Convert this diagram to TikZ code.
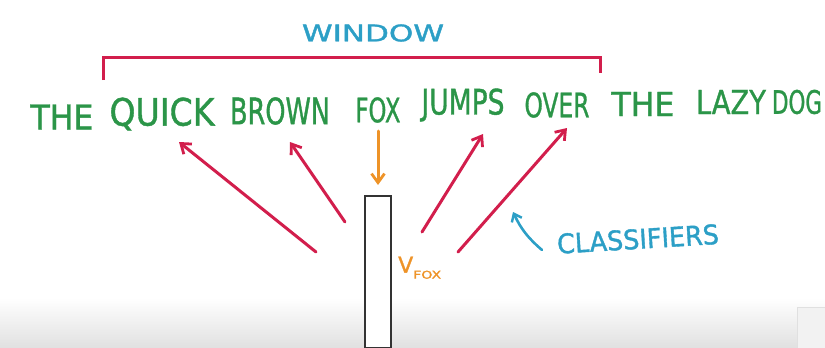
\documentclass[tikz,border=0pt]{standalone}
\usepackage{fontspec}
\setmainfont{DejaVu Sans}
\newfontfamily\greenpen{DejaVu Sans}[FakeBold=1.2]
\newfontfamily\bluepen{DejaVu Sans}[FakeBold=1.4]
\usepackage{graphicx}
\usetikzlibrary{arrows.meta}

\definecolor{wordgreen}{HTML}{2B9548}
\definecolor{penred}{HTML}{D21E4C}
\definecolor{penblue}{HTML}{2C9FC6}
\definecolor{penorange}{HTML}{EE9328}
\definecolor{boxgray}{HTML}{333333}

% a word squeezed into a box of given width and height (in px-sized pt)
\newcommand\fitword[3]{\resizebox{#1pt}{#2pt}{#3}}

\tikzset{
  word/.style={text=wordgreen, inner sep=0pt, font=\greenpen},
  bluetext/.style={text=penblue, inner sep=0pt, font=\bluepen},
  classline/.style={draw=penred, line width=3pt, line cap=round,
    -{Straight Barb[length=9pt,width=13pt,line width=2.8pt]}},
  inputline/.style={draw=penorange, line width=3pt, line cap=round,
    -{Straight Barb[length=9pt,width=13pt,line width=2.8pt]}},
  noteline/.style={draw=penblue, line width=2.6pt, line cap=round,
    -{Straight Barb[length=7pt,width=11pt,line width=2.4pt]}},
  bracket/.style={draw=penred, line width=3pt},
  vecbox/.style={draw=boxgray, line width=2.4pt, fill=white, inner sep=0pt,
    minimum width=26pt, minimum height=152pt},
}

\begin{document}
\begin{tikzpicture}[x=1pt, y=-1pt]
  \useasboundingbox (0,0) rectangle (825,348);
  % soft grey fade along the bottom edge
  \shade[top color=white, bottom color=black!12] (0,298) rectangle (825,348);
  \fill[black!5] (797,307) rectangle (825,348);
  \draw[black!12, line width=0.8pt] (797,348) -- (797,307) -- (825,307);

  % window label and bracket
  \node[bluetext] (window) at (373,33) {\fitword{142}{17}{WINDOW}};
  \coordinate (bl) at (103,80);
  \coordinate (br) at (600,73);
  \draw[bracket] (bl) -- (103,57) -- (600,57) -- (br);

  % the sentence
  \node[word] (w1) at (62,117)  {\fitword{63}{25}{THE}};
  \node[word] (w2) at (162,114) {\fitword{105}{28}{QUICK}};
  \node[word] (w3) at (280,111) {\fitword{100}{27}{BROWN}};
  \node[word] (w4) at (378,110) {\fitword{45}{25}{FOX}};
  \node[word] (w5) at (463,105) {\fitword{83}{26}{JUMPS}};
  \node[word] (w6) at (557,105) {\fitword{65}{25}{OVER}};
  \node[word] (w7) at (643,104) {\fitword{63}{24}{THE}};
  \node[word] (w8) at (731,102) {\fitword{70}{24}{LAZY}};
  \node[word] (w9) at (797,102) {\fitword{50}{24}{DOG}};

  % word vector of the centre word
  \node[vecbox, anchor=north] (vec) at (378,195) {};
  \node[text=penorange, inner sep=0pt, anchor=south west, font=\bluepen] (vlabel) at (398,279)
    {\fitword{15}{16}{V}\raisebox{-6pt}{\fitword{28}{8}{FOX}}};

  % input arrow into the vector
  \coordinate (inTop) at (378,131);
  \coordinate (inTip) at (378,185);
  \draw[inputline] (inTop) -- (inTip);

  % classifier arrows toward the context words
  \coordinate (c1s) at (316,252);  \coordinate (c1t) at (179,142);
  \coordinate (c2s) at (345,222);  \coordinate (c2t) at (290,142);
  \coordinate (c3s) at (422,232);  \coordinate (c3t) at (483,134);
  \coordinate (c4s) at (458,252);  \coordinate (c4t) at (567,128);
  \draw[classline] (c1s) -- (c1t);
  \draw[classline] (c2s) -- (c2t);
  \draw[classline] (c3s) -- (c3t);
  \draw[classline] (c4s) -- (c4t);

  % classifiers note
  \node[bluetext, rotate=3.5] (classnote) at (638,239)
    {\fitword{162}{20}{CLASSIFIERS}};
  \coordinate (noteStart) at (542,250);
  \coordinate (noteTip) at (513,212);
  \draw[noteline] (noteStart) to[bend left=12] (noteTip);
\end{tikzpicture}
\end{document}
